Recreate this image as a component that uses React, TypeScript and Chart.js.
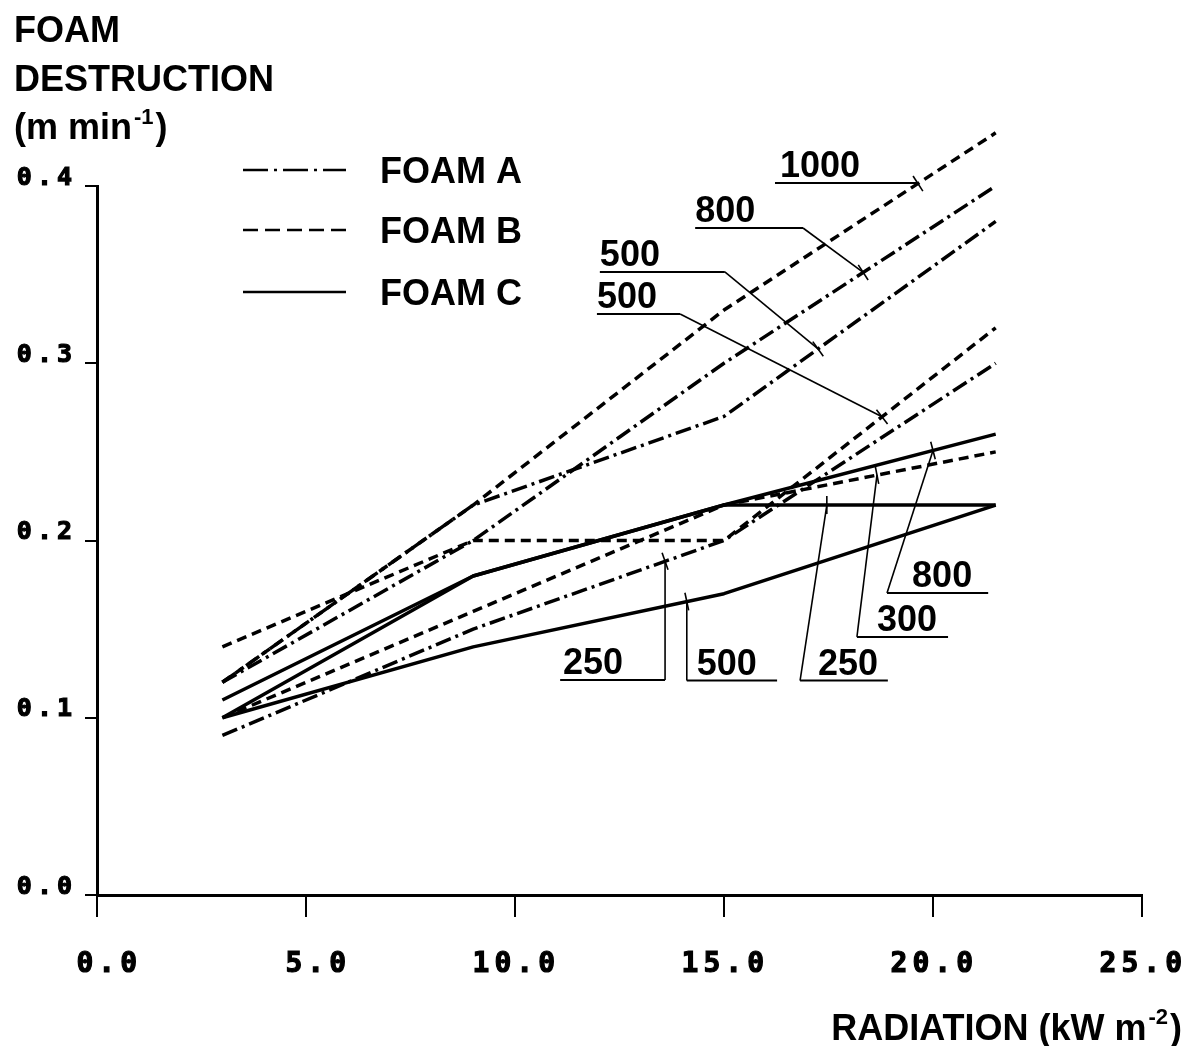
import React, { useEffect, useRef } from "react";
import { Chart, registerables } from "chart.js";

Chart.register(...registerables);

// ---- data ----
const radiation = [3, 9, 15, 21.5];

const foamA250 = [0.09, 0.15, 0.2, 0.3];
const foamA500 = [0.12, 0.22, 0.27, 0.38];
const foamA800 = [0.12, 0.2, 0.3, 0.4];

const foamB300 = [0.1, 0.16, 0.22, 0.25];
const foamB500 = [0.14, 0.2, 0.2, 0.32];
const foamB1000 = [0.12, 0.22, 0.33, 0.43];

const foamC250 = [0.11, 0.18, 0.22, 0.22];
const foamC500 = [0.1, 0.14, 0.17, 0.22];
const foamC800 = [0.1, 0.18, 0.22, 0.26];

const xTicks = [0, 5, 10, 15, 20, 25];
const yTicks = [0, 0.1, 0.2, 0.3, 0.4];
const legendLabels = ["FOAM A", "FOAM B", "FOAM C"];
const yTitleLines = ["FOAM", "DESTRUCTION", "(m min"];
const yTitleSup = "-1";
const xTitle = "RADIATION (kW m";
const xTitleSup = "-2";

type Series = { key: string; foam: number; tag: string; values: number[] };
const seriesTable: Series[] = [
  { key: "A250", foam: 0, tag: "250", values: foamA250 },
  { key: "A500", foam: 0, tag: "500", values: foamA500 },
  { key: "A800", foam: 0, tag: "800", values: foamA800 },
  { key: "B300", foam: 1, tag: "300", values: foamB300 },
  { key: "B500", foam: 1, tag: "500", values: foamB500 },
  { key: "B1000", foam: 1, tag: "1000", values: foamB1000 },
  { key: "C250", foam: 2, tag: "250", values: foamC250 },
  { key: "C500", foam: 2, tag: "500", values: foamC500 },
  { key: "C800", foam: 2, tag: "800", values: foamC800 },
];

// ---- styles / layout ----
const DASHES: number[][] = [[16, 5, 3, 5], [10, 6], []];
const LEGEND_DASHES: number[][] = [[25, 6, 3, 6], [15, 7], []];
const TEXT_FONT = 'bold 36px "Liberation Sans", Arial, sans-serif';
const SUP_FONT = 'bold 22px "Liberation Sans", Arial, sans-serif';
const MONO = '"DejaVu Sans Mono", monospace';

// callout placement in data coordinates
const calloutLayout = [
  { s: "B1000", text: 16.34, y: 0.4017, from: 16.22, to: 19.64, at: 19.64, corner: "right" },
  { s: "A800", text: 14.31, y: 0.3763, from: 14.31, to: 16.89, at: 18.33, corner: "right" },
  { s: "A500", text: 12.03, y: 0.3515, from: 12.03, to: 15.02, at: 17.25, corner: "right" },
  { s: "B500", text: 11.96, y: 0.3278, from: 11.96, to: 13.95, at: 18.78, corner: "right" },
  { s: "A250", text: 11.15, y: 0.1213, from: 11.08, to: 13.59, at: 13.59, corner: "right" },
  { s: "C500", text: 14.35, y: 0.121, from: 14.11, to: 16.27, at: 14.11, corner: "left" },
  { s: "C250", text: 17.25, y: 0.121, from: 16.82, to: 18.92, at: 17.46, corner: "left" },
  { s: "B300", text: 18.66, y: 0.1456, from: 18.18, to: 20.36, at: 18.66, corner: "left" },
  { s: "C800", text: 19.5, y: 0.1704, from: 18.9, to: 21.32, at: 20.0, corner: "left" },
];

function segmentAt(values: number[], x: number) {
  let i = 0;
  while (i < radiation.length - 2 && x > radiation[i + 1]) i++;
  const x0 = radiation[i], x1 = radiation[i + 1];
  const t = (x - x0) / (x1 - x0);
  return { y: values[i] + t * (values[i + 1] - values[i]), i };
}

export default function App() {
  const ref = useRef<HTMLCanvasElement>(null);

  useEffect(() => {
    const canvas = ref.current;
    if (!canvas) return;

    const datasets = seriesTable.map((s) => ({
      label: s.key,
      data: radiation.map((x, i) => ({ x, y: s.values[i] })),
      borderColor: "#000",
      backgroundColor: "#000",
      borderWidth: 3.5,
      borderDash: DASHES[s.foam],
      borderCapStyle: "butt",
      borderJoinStyle: "round",
      pointRadius: 0,
      tension: 0,
      fill: false,
      clip: false,
    }));

    const spacing = {
      id: "spacing",
      beforeDraw(chart: any) {
        chart.ctx.letterSpacing = "5px";
      },
      beforeDatasetsDraw(chart: any) {
        chart.ctx.letterSpacing = "0px";
      },
    };

    const decor = {
      id: "decor",
      afterDraw(chart: any) {
        const ctx = chart.ctx as CanvasRenderingContext2D;
        const xs = chart.scales.x, ys = chart.scales.y;
        const px = (v: number) => xs.getPixelForValue(v);
        const py = (v: number) => ys.getPixelForValue(v);
        ctx.save();
        (ctx as any).letterSpacing = "0px";
        ctx.fillStyle = "#000";
        ctx.strokeStyle = "#000";
        ctx.textBaseline = "alphabetic";
        ctx.textAlign = "left";

        // y title
        ctx.font = TEXT_FONT;
        const tBase = [42, 91, 139];
        yTitleLines.forEach((t, i) => ctx.fillText(t, 14, tBase[i]));
        const w = ctx.measureText(yTitleLines[2]).width;
        ctx.font = SUP_FONT;
        ctx.fillText(yTitleSup, 14 + w + 2, 124);
        const sw = ctx.measureText(yTitleSup).width;
        ctx.font = TEXT_FONT;
        ctx.fillText(")", 14 + w + 2 + sw + 2, 139);

        // x title (right aligned)
        ctx.font = TEXT_FONT;
        const w1 = ctx.measureText(xTitle).width;
        const wp = ctx.measureText(")").width;
        ctx.font = SUP_FONT;
        const w2 = ctx.measureText(xTitleSup).width;
        const right = 1182;
        const start = right - wp - w2 - 4 - w1;
        ctx.font = TEXT_FONT;
        ctx.fillText(xTitle, start, 1040);
        ctx.font = SUP_FONT;
        ctx.fillText(xTitleSup, start + w1 + 2, 1024);
        ctx.font = TEXT_FONT;
        ctx.fillText(")", start + w1 + w2 + 4, 1040);

        // legend
        const legY = [170, 230, 292];
        legendLabels.forEach((lab, i) => {
          ctx.beginPath();
          ctx.lineWidth = 2.5;
          ctx.setLineDash(LEGEND_DASHES[i]);
          ctx.moveTo(243, legY[i]);
          ctx.lineTo(346, legY[i]);
          ctx.stroke();
          ctx.setLineDash([]);
          ctx.font = TEXT_FONT;
          ctx.fillText(lab, 380, legY[i] + 13);
        });

        // callouts
        calloutLayout.forEach((c) => {
          const s = seriesTable.find((q) => q.key === c.s)!;
          const ly = py(c.y);
          const x0 = px(c.from), x1 = px(c.to);
          ctx.setLineDash([]);
          ctx.lineWidth = 2;
          ctx.beginPath();
          ctx.moveTo(x0, ly);
          ctx.lineTo(x1, ly);
          ctx.stroke();
          const seg = segmentAt(s.values, c.at);
          const tx = px(c.at), ty = py(seg.y);
          const cx = c.corner === "right" ? x1 : x0;
          ctx.lineWidth = 1.6;
          ctx.beginPath();
          ctx.moveTo(cx, ly);
          ctx.lineTo(tx, ty);
          ctx.stroke();
          const ax = px(radiation[seg.i + 1]) - px(radiation[seg.i]);
          const ay = py(s.values[seg.i + 1]) - py(s.values[seg.i]);
          const len = Math.hypot(ax, ay);
          const nx = -ay / len, ny = ax / len;
          ctx.beginPath();
          ctx.moveTo(tx - nx * 9, ty - ny * 9);
          ctx.lineTo(tx + nx * 9, ty + ny * 9);
          ctx.stroke();
          ctx.font = TEXT_FONT;
          ctx.fillText(s.tag, px(c.text), ly - 6);
        });
        ctx.restore();
      },
    };

    const chart = new Chart(canvas, {
      type: "line",
      data: { datasets: datasets as any },
      options: {
        responsive: false,
        animation: false,
        devicePixelRatio: 1,
        layout: { padding: { top: 186, right: 45, left: 0, bottom: 0 } },
        plugins: { legend: { display: false }, tooltip: { enabled: false } },
        scales: {
          x: {
            type: "linear",
            min: 0,
            max: 25,
            afterBuildTicks: (s: any) => {
              s.ticks = xTicks.map((v) => ({ value: v }));
            },
            afterFit: (s: any) => {
              s.height = 151;
              s.paddingLeft = 0;
              s.paddingRight = 0;
            },
            grid: { drawOnChartArea: false, drawTicks: true, tickLength: 22, color: "#000", lineWidth: 2 },
            border: { display: true, color: "#000", width: 3 },
            ticks: {
              color: "#000",
              font: { family: MONO, size: 28, weight: "bold" },
              textStrokeColor: "#000",
              textStrokeWidth: 1.2,
              padding: 31,
              align: "end",
              labelOffset: 45,
              maxRotation: 0,
              autoSkip: false,
              callback: (v: any) => Number(v).toFixed(1),
            },
          },
          y: {
            type: "linear",
            min: 0,
            max: 0.4,
            afterBuildTicks: (s: any) => {
              s.ticks = yTicks.map((v) => ({ value: v }));
            },
            afterFit: (s: any) => {
              s.width = 97;
              s.paddingTop = 0;
              s.paddingBottom = 0;
            },
            grid: { drawOnChartArea: false, drawTicks: true, tickLength: 12, color: "#000", lineWidth: 2 },
            border: { display: true, color: "#000", width: 3 },
            ticks: {
              color: "#000",
              font: { family: MONO, size: 25, weight: "bold" },
              textStrokeColor: "#000",
              textStrokeWidth: 1.2,
              padding: 8,
              labelOffset: -8,
              autoSkip: false,
              callback: (v: any) => Number(v).toFixed(1),
            },
          },
        },
      } as any,
      plugins: [spacing, decor],
    });

    return () => chart.destroy();
  }, []);

  return (
    <div style={{ position: "absolute", left: 0, top: 0, width: 1187, height: 1046, background: "#fff" }}>
      <canvas ref={ref} width={1187} height={1046} style={{ display: "block" }} />
    </div>
  );
}
